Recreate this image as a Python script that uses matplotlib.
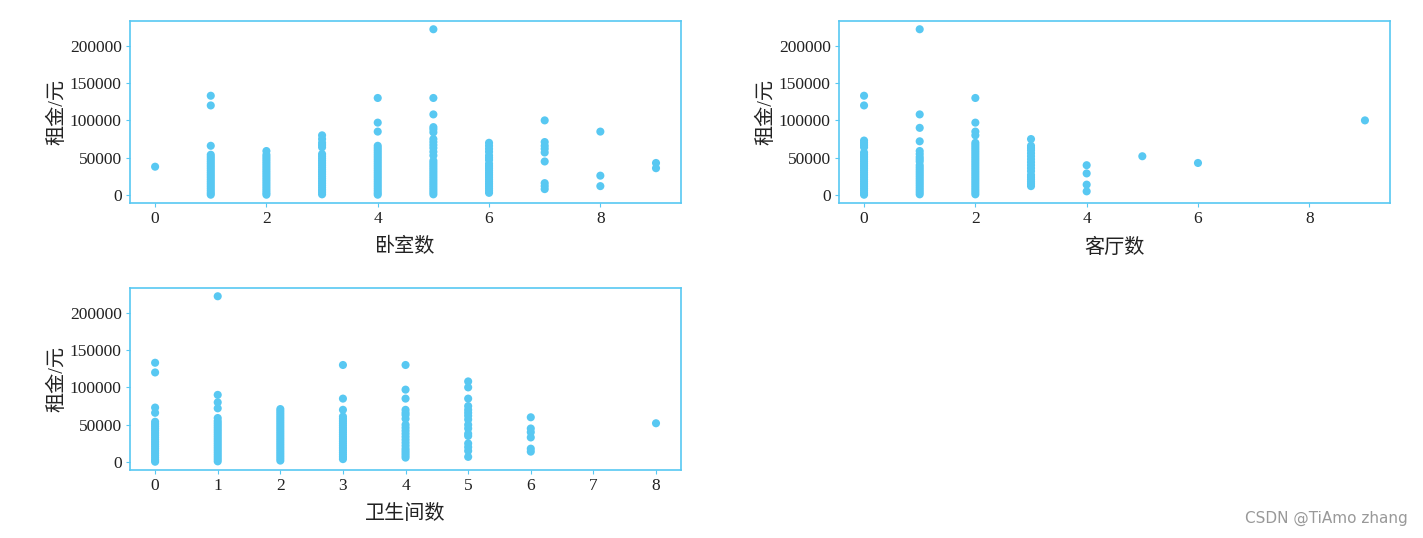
import matplotlib
matplotlib.use("Agg")
from matplotlib import pyplot as plt

plt.rcParams['font.family'] = ['Liberation Serif', 'Noto Sans CJK SC']

blue = '#58c8f2'

# rent (yuan) observed per number of bedrooms
bedroom = {
    0: [38000],
    1: [500, 3000, 6000, 9000, 12000, 15000, 18000, 21000, 24000, 27000, 30000, 33000,
        36000, 39000, 42000, 45000, 48000, 51000, 54000, 66000, 120000, 133000],
    2: [500, 3000, 6000, 9000, 12000, 15000, 18000, 21000, 24000, 27000, 30000, 33000,
        36000, 39000, 42000, 45000, 48000, 51000, 54000, 59000],
    3: [1000, 4000, 7000, 10000, 13000, 16000, 19000, 22000, 25000, 28000, 31000, 34000,
        37000, 40000, 43000, 46000, 49000, 52000, 55000, 64000, 67000, 70000, 75000, 80000],
    4: [500, 3000, 6000, 9000, 12000, 15000, 18000, 21000, 24000, 27000, 30000, 33000,
        36000, 39000, 42000, 45000, 48000, 51000, 54000, 57000, 60000, 63000, 66000,
        85000, 97000, 130000],
    5: [1000, 4000, 7000, 10000, 13000, 16000, 19000, 22000, 25000, 28000, 31000, 34000,
        37000, 40000, 43000, 46000, 53000, 58000, 63000, 67000, 71000, 75000, 84000,
        88000, 91000, 108000, 130000, 222000],
    6: [3000, 6000, 9000, 12000, 15000, 18000, 21000, 24000, 27000, 30000, 33000, 36000,
        39000, 42000, 47000, 50000, 53000, 58000, 62000, 66000, 70000],
    7: [8000, 12000, 16000, 45000, 57000, 62000, 66000, 71000, 100000],
    8: [12000, 26000, 85000],
    9: [36000, 43000],
}

# rent per number of living rooms
living = {
    0: [500, 3000, 6000, 9000, 12000, 15000, 18000, 21000, 24000, 27000, 30000, 33000,
        36000, 39000, 42000, 45000, 48000, 51000, 54000, 57000, 64000, 67000, 70000,
        73000, 120000, 133000],
    1: [1000, 4000, 7000, 10000, 13000, 16000, 19000, 22000, 25000, 28000, 31000, 34000,
        37000, 40000, 45000, 48000, 51000, 55000, 59000, 72000, 90000, 108000, 222000],
    2: [1000, 4000, 7000, 10000, 13000, 16000, 19000, 22000, 25000, 28000, 31000, 34000,
        37000, 40000, 43000, 46000, 49000, 52000, 55000, 58000, 61000, 64000, 67000,
        70000, 80000, 85000, 97000, 130000],
    3: [12000, 15000, 18000, 21000, 24000, 27000, 32000, 36000, 40000, 44000, 48000,
        52000, 56000, 60000, 63000, 66000, 75000],
    4: [5000, 14000, 29000, 40000],
    5: [52000],
    6: [43000],
    9: [100000],
}

# rent per number of bathrooms
bathroom = {
    0: [500, 3000, 6000, 9000, 12000, 15000, 18000, 21000, 24000, 27000, 30000, 33000,
        36000, 39000, 42000, 45000, 48000, 51000, 54000, 66000, 73000, 120000, 133000],
    1: [1000, 4000, 7000, 10000, 13000, 16000, 19000, 22000, 25000, 28000, 31000, 34000,
        37000, 40000, 43000, 46000, 49000, 52000, 55000, 59000, 72000, 80000, 90000,
        222000],
    2: [2000, 5000, 8000, 11000, 14000, 17000, 20000, 23000, 26000, 29000, 32000, 35000,
        38000, 41000, 44000, 47000, 50000, 53000, 56000, 59000, 62000, 65000, 68000, 71000],
    3: [4000, 7000, 10000, 13000, 16000, 19000, 22000, 25000, 28000, 31000, 34000, 37000,
        40000, 43000, 46000, 49000, 52000, 55000, 58000, 61000, 70000, 85000, 130000],
    4: [6000, 9000, 12000, 15000, 18000, 22000, 26000, 30000, 34000, 38000, 42000, 46000,
        50000, 58000, 63000, 66000, 70000, 85000, 97000, 130000],
    5: [7000, 15000, 20000, 25000, 35000, 38000, 45000, 50000, 57000, 62000, 66000, 70000,
        75000, 85000, 100000, 108000],
    6: [14000, 18000, 33000, 40000, 45000, 60000],
    8: [52000],
}

panels = [
    (bedroom, '卧室数', [0.0914, 0.6227, 0.3872, 0.3383], 2),
    (living, '客厅数', [0.5896, 0.6227, 0.3872, 0.3383], 2),
    (bathroom, '卫生间数', [0.0914, 0.1264, 0.3872, 0.3383], 1),
]

fig = plt.figure(figsize=(14.23, 5.38), dpi=100)

for data, xlabel, rect, step in panels:
    ax = fig.add_axes(rect)
    xs, ys = [], []
    for k, vals in data.items():
        xs += [k] * len(vals)
        ys += vals
    ax.scatter(xs, ys, s=34, color=blue, edgecolors='none')
    ax.set_xticks(range(0, max(data) + 1, step))
    ax.set_yticks([0, 50000, 100000, 150000, 200000])
    ax.set_xlabel(xlabel, fontsize=14.5, labelpad=8, color='#222222')
    ax.set_ylabel('租金/元', fontsize=14.5, labelpad=2, color='#222222')
    for sp in ax.spines.values():
        sp.set_color(blue)
        sp.set_linewidth(1.2)
    ax.tick_params(colors=blue, labelcolor='#222222', labelsize=12.5, length=3, pad=3)

fig.text(0.989, 0.022, 'CSDN @TiAmo zhang', ha='right', va='bottom',
         fontsize=11, color='#999999', family=['DejaVu Sans'])

fig.savefig('out.png', dpi=100)
